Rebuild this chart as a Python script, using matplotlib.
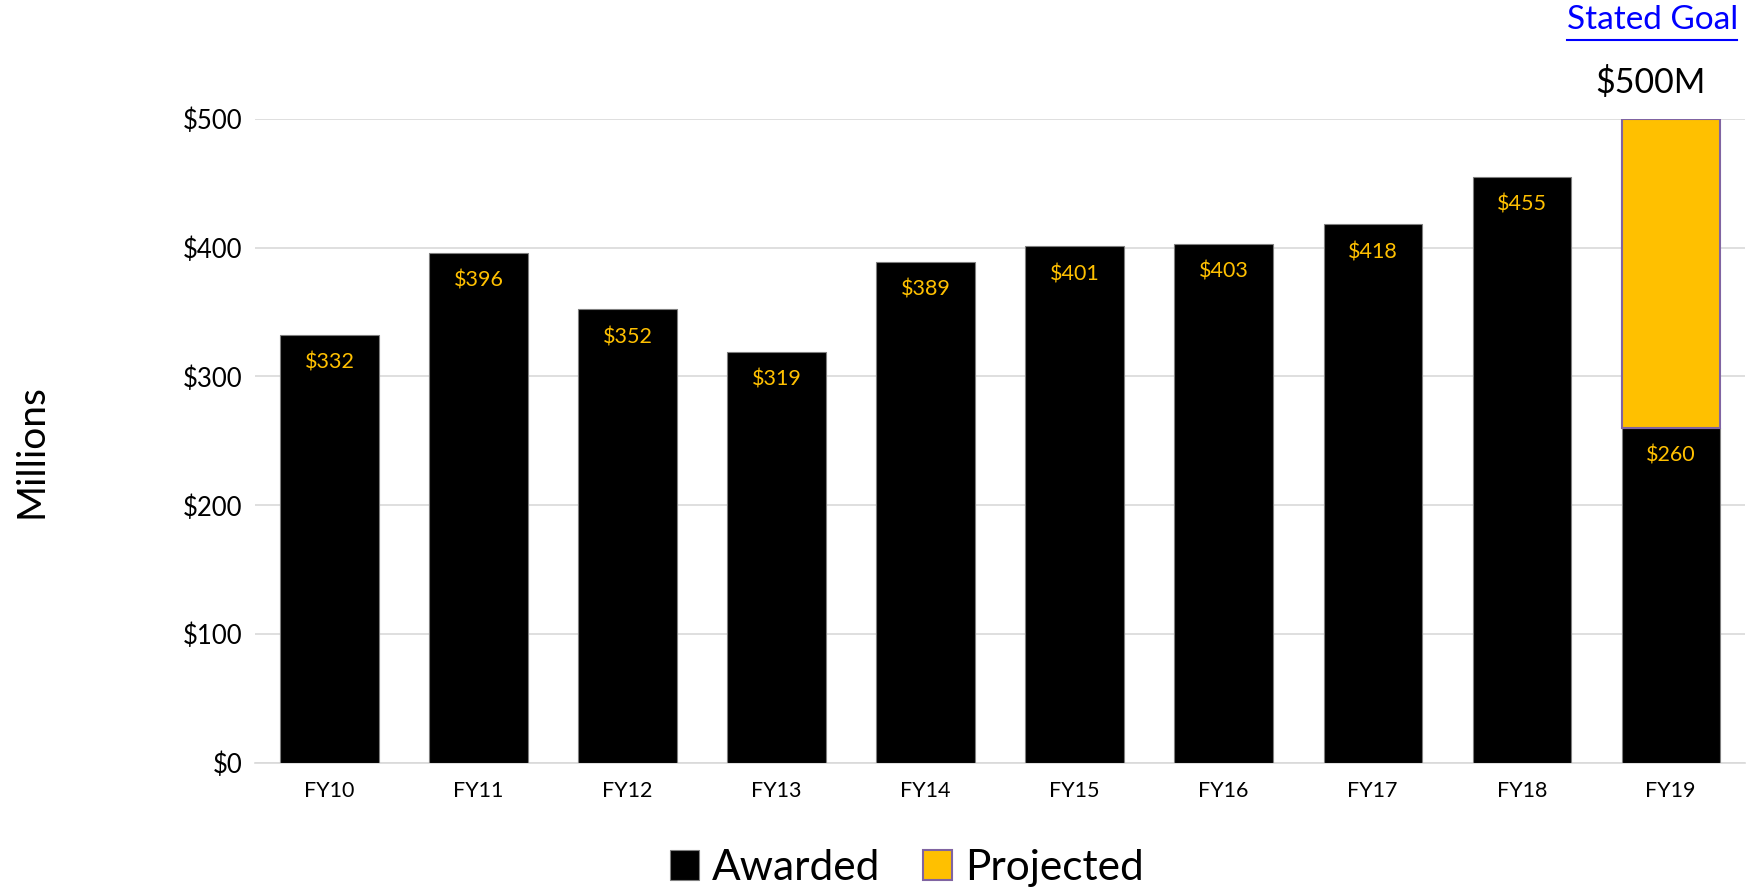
import matplotlib
matplotlib.use('Agg')
import matplotlib.pyplot as plt
import numpy as np

years = ['FY10', 'FY11', 'FY12', 'FY13', 'FY14', 'FY15', 'FY16', 'FY17', 'FY18', 'FY19']
awarded = [332, 396, 352, 319, 389, 401, 403, 418, 455, 260]
projected = [0, 0, 0, 0, 0, 0, 0, 0, 0, 240]
goal = 500

plt.rcParams['font.family'] = ['Lato', 'DejaVu Sans']

gold = '#FFC000'
x = np.arange(len(years))
width = 0.66

fig = plt.figure(figsize=(17.54, 8.92), dpi=100)
ax = fig.add_axes([0.1454, 0.1446, 0.8496, 0.7224])

# barras de lo otorgado
rects = ax.bar(x, awarded, width, color='black', edgecolor='#7f7f7f', linewidth=0.8,
               label='Awarded', zorder=3)
# proyectado solo donde hay valor
proj = np.array(projected)
mask = proj > 0
ax.bar(x[mask], proj[mask], width, bottom=np.array(awarded)[mask], color=gold,
       edgecolor='#8064A2', linewidth=1.5, label='Projected', zorder=3)

for rect, val in zip(rects, awarded):
    ax.annotate('${}'.format(val),
                xy=(rect.get_x() + rect.get_width() / 2, rect.get_height()),
                xytext=(0, -20), textcoords='offset points',
                ha='center', va='center', color=gold, fontsize=15.5, zorder=4)

ax.set_xlim(-0.5, len(years) - 0.5)
ax.set_ylim(0, goal)
ax.set_yticks(np.arange(0, 501, 100))
ax.set_yticklabels(['${}'.format(v) for v in range(0, 501, 100)], fontsize=18.5)
ax.set_xticks(x)
ax.set_xticklabels(years, fontsize=15.5)
ax.tick_params(axis='both', length=0)
ax.tick_params(axis='y', pad=9)
ax.tick_params(axis='x', pad=13)
ax.grid(axis='y', color='#D9D9D9', linewidth=1.2, zorder=0)
for s in ['top', 'right', 'left']:
    ax.spines[s].set_visible(False)
ax.spines['bottom'].set_color('#D9D9D9')
ax.spines['bottom'].set_linewidth(1.2)

fig.text(0.018, 0.494, 'Millions', rotation=90, ha='center', va='center', fontsize=28)

fig.text(0.942, 0.978, 'Stated Goal', ha='center', va='center', fontsize=24,
         color='#0000FF').set_url('#')
# subrayado del "link"
fig.add_artist(plt.Line2D([0.8935, 0.9905], [0.955, 0.955], color='#0000FF',
                          linewidth=1.5, transform=fig.transFigure))
fig.text(0.941, 0.908, '${}M'.format(goal), ha='center', va='center', fontsize=24.5)

fig.legend(loc='center', bbox_to_anchor=(0.517, 0.027), ncol=2, frameon=False,
           fontsize=30.5, handlelength=0.7, handleheight=0.7, handletextpad=0.3,
           columnspacing=1.0)

plt.savefig('out.png', dpi=100)
